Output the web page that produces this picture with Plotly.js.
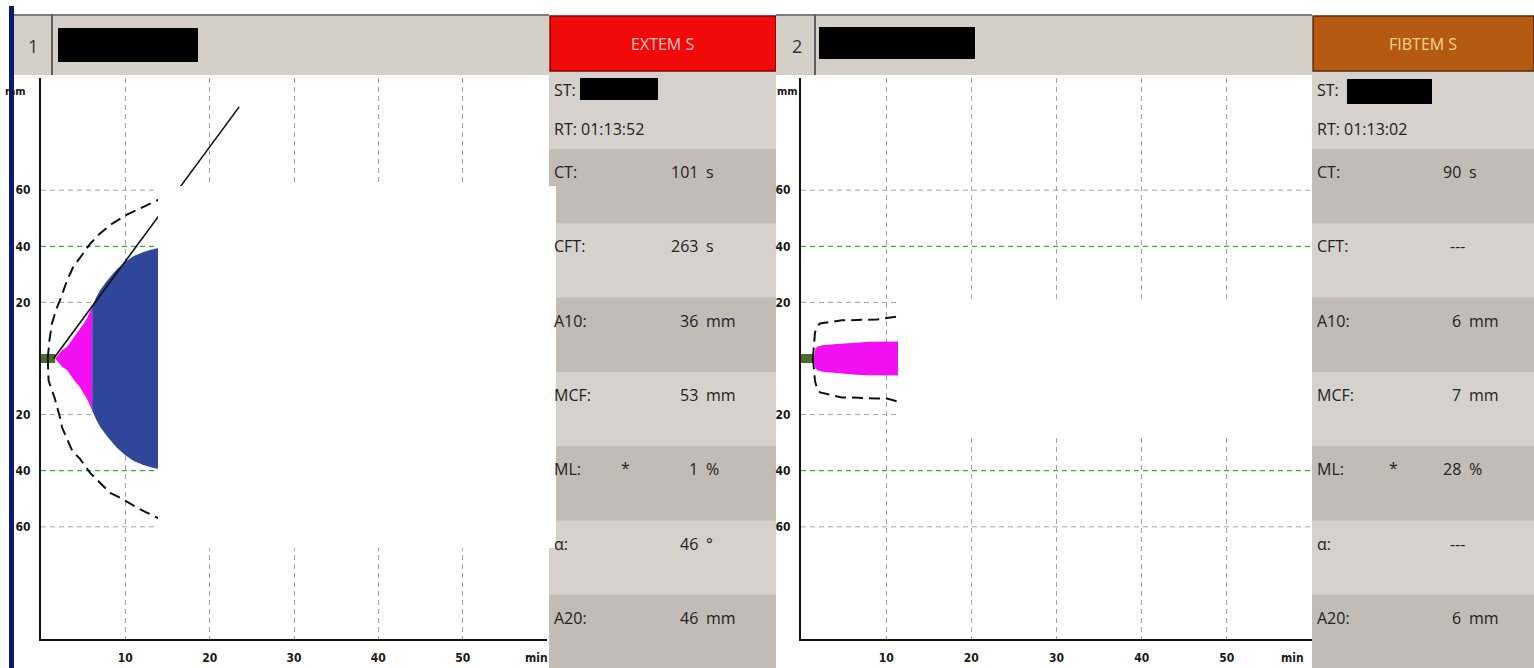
<!DOCTYPE html>
<html><head><meta charset="utf-8">
<script src="https://cdn.plot.ly/plotly-3.0.1.min.js"></script>
<style>html,body{margin:0;padding:0;background:#fff;overflow:hidden}#chart{width:1534px;height:668px}</style>
</head><body><div id="chart"></div>
<script>
const W = 1534, H = 668;

// ---------- data ----------
const xTicks = [10, 20, 30, 40, 50];
const yTickVals = [-60, -40, -20, 20, 40, 60];
const yTickText = ['60', '40', '20', '20', '40', '60'];
const grayLevels = [-60, -20, 20, 60];
const greenLevels = [-40, 40];

const paramLabels = ['CT:', 'CFT:', 'A10:', 'MCF:', 'ML:', 'α:', 'A20:'];
const extemValues = ['101', '263', '36', '53', '1', '46', '46'];
const extemUnits = ['s', 's', 'mm', 'mm', '%', '°', 'mm'];
const fibtemValues = ['90', '---', '6', '7', '28', '---', '6'];
const fibtemUnits = ['s', '', 'mm', 'mm', '%', '', 'mm'];
const extemTitle = 'EXTEM S', fibtemTitle = 'FIBTEM S';
const extemRT = 'RT: 01:13:52', fibtemRT = 'RT: 01:13:02';
const channelNumbers = ['1', '2'];

// EXTEM trace (minutes, mm amplitude)
const extemCT = 1.68;          // 101 s
const extemCFTend = 6.07;      // CT + 263 s
const extemTime = [1.68, 2.0, 2.5, 3.08, 3.5, 4.0, 4.6, 5.0, 5.5, 6.07, 6.5, 7.0, 8.0, 9.0, 10.0, 11.0, 12.0, 13.0, 14.0, 14.6];
const extemAmp  = [0, 1.3, 2.9, 4.1, 5.9, 8.0, 10.2, 12.2, 14.6, 18.5, 21.5, 24.3, 28.3, 31.8, 34.5, 36.5, 37.8, 38.8, 39.5, 39.8];
// EXTEM reference (dashed) envelope
const extemRefUpT = [0.8, 0.85, 1.0, 1.3, 1.8, 2.25, 2.7, 3.1, 3.8, 4.6, 5.8, 7.0, 8.5, 10.0, 11.4, 12.6, 13.8, 14.6];
const extemRefUpA = [0, 1.8, 6.5, 12.5, 17.5, 20.7, 24.5, 27.9, 32.5, 36.0, 40.8, 44.6, 48.2, 51.0, 52.9, 54.8, 56.4, 57.2];
const extemRefLoT = [0.8, 0.9, 1.3, 1.6, 2.25, 2.5, 3.7, 4.6, 5.8, 6.76, 8.2, 9.37, 11.4, 12.6, 13.8, 14.6];
const extemRefLoA = [0, -7.9, -11.4, -13.9, -21.0, -24.6, -32.9, -35.7, -40.7, -43.6, -47.9, -49.6, -53.2, -55.0, -56.8, -57.5];
// EXTEM alpha tangent line
const alphaT = [1.5, 23.5];
const alphaA = [0, 89.7];

// FIBTEM trace
const fibtemCT = 1.5;          // 90 s
const fibtemTime = [1.5, 1.6, 1.7, 1.9, 2.5, 4.2, 6.5, 8.1, 11.5, 12.2];
const fibtemAmp  = [0, 2.5, 3.5, 4.2, 4.7, 5.2, 5.8, 6.0, 6.1, 6.1];
const fibRefUpT = [1.4, 1.5, 1.64, 2.0, 2.23, 4.8, 8.9, 11.4, 12.2];
const fibRefUpA = [0, 5, 9.3, 11.8, 12.5, 13.6, 13.9, 15.0, 15.2];
const fibRefLoT = [1.4, 1.5, 1.64, 1.9, 2.23, 4.8, 6.1, 8.9, 10.1, 11.4, 12.2];
const fibRefLoA = [0, -5, -7.9, -11, -12.1, -13.9, -13.9, -14.3, -14.3, -15.4, -15.6];

// ---------- helpers ----------
const X = p => p / W, Y = p => 1 - p / H;
function band(t, a) {           // symmetric filled temogram band
  const xs = t.concat(t.slice().reverse());
  const ys = a.concat(a.slice().reverse().map(v => -v));
  return {xs, ys};
}
function split(t, a, lo, hi) {
  const tt = [], aa = [];
  t.forEach((v, i) => { if (v >= lo - 1e-9 && v <= hi + 1e-9) { tt.push(v); aa.push(a[i]); } });
  return [tt, aa];
}

const traces = [];
function addPanel(xa, ya, ct, fills, refs, extra) {
  traces.push({x: [0, ct], y: [0, 0], xaxis: xa, yaxis: ya, mode: 'lines',
    line: {color: '#4c6a2e', width: 9}, hoverinfo: 'skip'});
  fills.forEach(f => {
    const b = band(f.t, f.a);
    traces.push({x: b.xs, y: b.ys, xaxis: xa, yaxis: ya, mode: 'lines', fill: 'toself',
      fillcolor: f.color, line: {width: 0, color: f.color}, hoverinfo: 'skip'});
  });
  refs.forEach(r => traces.push({x: r.t, y: r.a, xaxis: xa, yaxis: ya, mode: 'lines',
    line: {color: '#111', width: 2, dash: '11px,6px'}, hoverinfo: 'skip'}));
  (extra || []).forEach(e => traces.push(Object.assign({xaxis: xa, yaxis: ya, hoverinfo: 'skip'}, e)));
}

const [mT, mA] = split(extemTime, extemAmp, 0, extemCFTend);
const [bT, bA] = split(extemTime, extemAmp, extemCFTend, 100);
addPanel('x', 'y', extemCT,
  [{t: mT, a: mA, color: '#f20ff2'}, {t: bT, a: bA, color: '#30469a'}],
  [{t: extemRefUpT, a: extemRefUpA}, {t: extemRefLoT, a: extemRefLoA}],
  [{x: alphaT, y: alphaA, mode: 'lines', line: {color: '#111', width: 1.6}}]);
addPanel('x2', 'y2', fibtemCT,
  [{t: fibtemTime, a: fibtemAmp, color: '#f20ff2'}],
  [{t: fibRefUpT, a: fibRefUpA}, {t: fibRefLoT, a: fibRefLoA}]);

// ---------- axes ----------
const tickFont = {family: "'Liberation Sans Narrow','DejaVu Sans Condensed',sans-serif", size: 12, color: '#1a1a1a', weight: 'bold'};
function xAxis(d0, d1, anchor) {
  return {domain: [X(d0), X(d1)], range: [0, 60], anchor, tickvals: xTicks,
    showgrid: true, gridcolor: '#a4a4a4', gridwidth: 1, griddash: '5px,4px',
    showline: true, linecolor: '#111', linewidth: 2, zeroline: false,
    ticks: 'outside', ticklen: 7, tickcolor: 'rgba(0,0,0,0)', tickfont: tickFont, fixedrange: true};
}
function yAxis(anchor) {
  return {domain: [Y(639), Y(78)], range: [-100, 100], anchor, tickvals: yTickVals, ticktext: yTickText,
    showgrid: false, showline: true, linecolor: '#111', linewidth: 2, zeroline: false,
    ticks: 'outside', ticklen: 6, tickcolor: 'rgba(0,0,0,0)', tickfont: tickFont, fixedrange: true};
}

// ---------- shapes ----------
const shapes = [];
function rect(x0, y0, x1, y1, fill, layer, line) {
  shapes.push({type: 'rect', xref: 'paper', yref: 'paper', x0: X(x0), x1: X(x1), y0: Y(y1), y1: Y(y0),
    fillcolor: fill, line: line || {width: 0}, layer: layer || 'below'});
}
function vline(x, y0, y1, color, w) {
  shapes.push({type: 'line', xref: 'paper', yref: 'paper', x0: X(x), x1: X(x), y0: Y(y1), y1: Y(y0),
    line: {color, width: w}, layer: 'above'});
}
function hline(x0, x1, y, color, w) {
  shapes.push({type: 'line', xref: 'paper', yref: 'paper', x0: X(x0), x1: X(x1), y0: Y(y), y1: Y(y),
    line: {color, width: w}, layer: 'above'});
}
[['x', 'y'], ['x2', 'y2']].forEach(([xa, ya]) => {
  grayLevels.forEach(v => shapes.push({type: 'line', xref: xa, yref: ya, x0: 0, x1: 60, y0: v, y1: v,
    line: {color: '#a4a4a4', width: 1, dash: '5px,4px'}, layer: 'below'}));
  greenLevels.forEach(v => shapes.push({type: 'line', xref: xa, yref: ya, x0: 0, x1: 60, y0: v, y1: v,
    line: {color: '#3fae45', width: 1.2, dash: '5px,4px'}, layer: 'below'}));
});

const annotations = [];
function text(x, y, t, opts) {
  annotations.push(Object.assign({xref: 'paper', yref: 'paper', x: X(x), y: Y(y), text: t, showarrow: false,
    xanchor: 'left', yanchor: 'middle',
    font: {family: "'Open Sans','Noto Sans',sans-serif", size: 16, color: '#222'}}, opts || {}));
}

// navy frame strip
rect(9, 6, 14, 668, '#0b1a72', 'above');

const panels = [
  {hx0: 14, hx1: 549, sep: 52, num: channelNumbers[0], numX: 33, red: [58, 28, 198, 62],
   ix0: 549, ix1: 776, title: extemTitle, boxFill: '#f00a0a', boxLine: '#8a0000', titleColor: '#f7c4ba',
   rt: extemRT, st: [580, 78, 658, 100], vals: extemValues, units: extemUnits, mmX: 15, minX: 536, star: 625},
  {hx0: 776, hx1: 1312, sep: 815, num: channelNumbers[1], numX: 797, red: [819, 27, 975, 59],
   ix0: 1312, ix1: 1534, title: fibtemTitle, boxFill: '#b45a12', boxLine: '#5a2a05', titleColor: '#f6d68e',
   rt: fibtemRT, st: [1347, 79, 1432, 104], vals: fibtemValues, units: fibtemUnits, mmX: 787, minX: 1292, star: 1393}
];
panels.forEach(p => {
  // header
  rect(p.hx0, 14, p.hx1, 75, '#d4d0c8', 'above');
  hline(p.hx0, p.hx1, 15, '#7e7c78', 2);
  vline(p.sep, 14, 75, '#5e5e5e', 2);
  rect(p.red[0], p.red[1], p.red[2], p.red[3], '#000', 'above');
  text(p.numX, 46, p.num, {xanchor: 'center', font: {family: "'Open Sans',sans-serif", size: 18, color: '#333'}});
  // info column
  rect(p.ix0, 71, p.ix1, 668, '#d5d1cc');
  for (let i = 0; i < 7; i += 2) rect(p.ix0, 149 + 74.3 * i, p.ix1, 149 + 74.3 * (i + 1), '#c1bcb5');
  rect(p.ix0 + 1, 16, p.ix1, 71, p.boxFill, 'above', {color: p.boxLine, width: 1.5});
  text((p.ix0 + p.ix1) / 2, 44, p.title, {xanchor: 'center',
    font: {family: "'Open Sans','Noto Sans',sans-serif", size: 16, color: p.titleColor}});
  text(p.ix0 + 3, 90, 'ST:');
  rect(p.st[0], p.st[1], p.st[2], p.st[3], '#000', 'above');
  text(p.ix0 + 3, 129, p.rt);
  paramLabels.forEach((lab, i) => {
    const yc = 149 + 74.3 * i + 23;
    text(p.ix0 + 3, yc, lab);
    const dash = p.vals[i] === '---';
    text(dash ? p.ix0 + 145 : p.ix0 + 151, yc, p.vals[i], {xanchor: dash ? 'center' : 'right'});
    if (p.units[i]) text(p.ix0 + 155, yc, p.units[i]);
    if (lab === 'ML:') text(p.star, yc - 1, '*', {xanchor: 'center'});
  });
  // axis captions
  text(p.mmX, 92, 'mm', {xanchor: 'center', font: {family: tickFont.family, size: 11, color: '#1a1a1a', weight: 'bold'}});
  text(p.minX, 658, 'min', {xanchor: 'center', font: {family: tickFont.family, size: 12, color: '#1a1a1a', weight: 'bold'}});
});

// white redaction boxes over the plots
rect(158, 186, 556, 548, '#ffffff', 'above');
rect(898, 301, 1312, 435, '#ffffff', 'above');

const layout = {
  width: W, height: H, margin: {l: 0, r: 0, t: 0, b: 0},
  paper_bgcolor: '#ffffff', plot_bgcolor: '#ffffff', showlegend: false,
  xaxis: xAxis(41, 547, 'y'), yaxis: yAxis('x'),
  xaxis2: xAxis(801, 1312, 'y2'), yaxis2: yAxis('x2'),
  shapes, annotations
};
Plotly.newPlot('chart', traces, layout, {staticPlot: true, displayModeBar: false});
</script></body></html>
